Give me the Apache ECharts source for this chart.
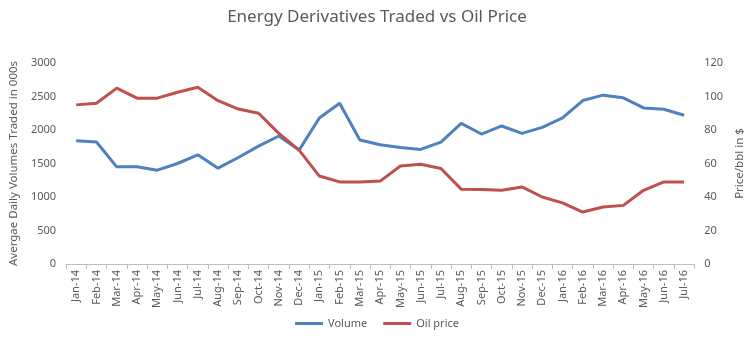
<!DOCTYPE html>
<html>
<head>
<meta charset="utf-8">
<script src="https://cdn.jsdelivr.net/npm/echarts@6/dist/echarts.min.js"></script>
<style>html,body{margin:0;padding:0;background:#fff}#c{width:754px;height:338px}</style>
</head>
<body>
<div id="c"></div>
<script>
var months = ['Jan-14','Feb-14','Mar-14','Apr-14','May-14','Jun-14','Jul-14','Aug-14','Sep-14','Oct-14','Nov-14','Dec-14',
  'Jan-15','Feb-15','Mar-15','Apr-15','May-15','Jun-15','Jul-15','Aug-15','Sep-15','Oct-15','Nov-15','Dec-15',
  'Jan-16','Feb-16','Mar-16','Apr-16','May-16','Jun-16','Jul-16'];
var volume = [1840,1820,1450,1450,1400,1500,1630,1430,1590,1760,1910,1700,
  2180,2400,1850,1780,1740,1710,1820,2100,1940,2060,1950,2040,
  2180,2440,2520,2480,2330,2310,2220];
var oilPrice = [95,96,105,99,99,102.5,105.5,97.5,92.5,90,78,68,
  52.5,49,49,49.5,58.5,59.6,57,44.7,44.5,44,46,40,
  36.5,31,34,35,44,49,49];
var leftTicks = {min:0, max:3000, interval:500};
var rightTicks = {min:0, max:120, interval:20};

var font = 'Noto Sans';
var chart = echarts.init(document.getElementById('c'));
chart.setOption({
  backgroundColor:'#fff',
  animation:false,
  textStyle:{fontFamily:font},
  title:{text:'Energy Derivatives Traded vs Oil Price', left:'center', top:4,
    textStyle:{fontFamily:font,fontSize:17,fontWeight:'normal',color:'#595959'}},
  legend:{bottom:4, left:'center', itemWidth:28, itemHeight:3, itemGap:16,
    icon:'rect',
    textStyle:{fontFamily:font,fontSize:11,color:'#595959'},
    data:['Volume','Oil price']},
  grid:{left:54, right:51, top:63, bottom:74},
  xAxis:{type:'category', data:months, boundaryGap:true,
    axisLine:{lineStyle:{color:'#bfbfbf'}},
    axisTick:{show:true, alignWithLabel:false, length:5, lineStyle:{color:'#bfbfbf'}},
    axisLabel:{rotate:90, fontSize:11, color:'#595959', interval:0, margin:6}},
  yAxis:[
    {type:'value', min:leftTicks.min, max:leftTicks.max, interval:leftTicks.interval,
      name:'Avergae Daily Volumes Traded in 000s', nameLocation:'middle', nameGap:44, nameRotate:90,
      nameTextStyle:{fontSize:11.5,color:'#595959'},
      axisLine:{show:false}, axisTick:{show:false}, splitLine:{show:false},
      axisLabel:{fontSize:11,color:'#595959',margin:10,formatter:function(v){return String(v);}}},
    {type:'value', min:rightTicks.min, max:rightTicks.max, interval:rightTicks.interval,
      name:'Price/bbl in $', nameLocation:'middle', nameGap:33, nameRotate:90,
      nameTextStyle:{fontSize:11.5,color:'#595959'},
      axisLine:{show:false}, axisTick:{show:false}, splitLine:{show:false},
      axisLabel:{fontSize:11,color:'#595959',margin:10,formatter:function(v){return String(v);}}}
  ],
  series:[
    {name:'Volume', type:'line', yAxisIndex:0, data:volume, showSymbol:false, symbol:'none',
      lineStyle:{width:3,color:'#4F81BD'}, itemStyle:{color:'#4F81BD'}},
    {name:'Oil price', type:'line', yAxisIndex:1, data:oilPrice, showSymbol:false, symbol:'none',
      lineStyle:{width:3,color:'#C0504D'}, itemStyle:{color:'#C0504D'}}
  ]
});
</script>
</body>
</html>
